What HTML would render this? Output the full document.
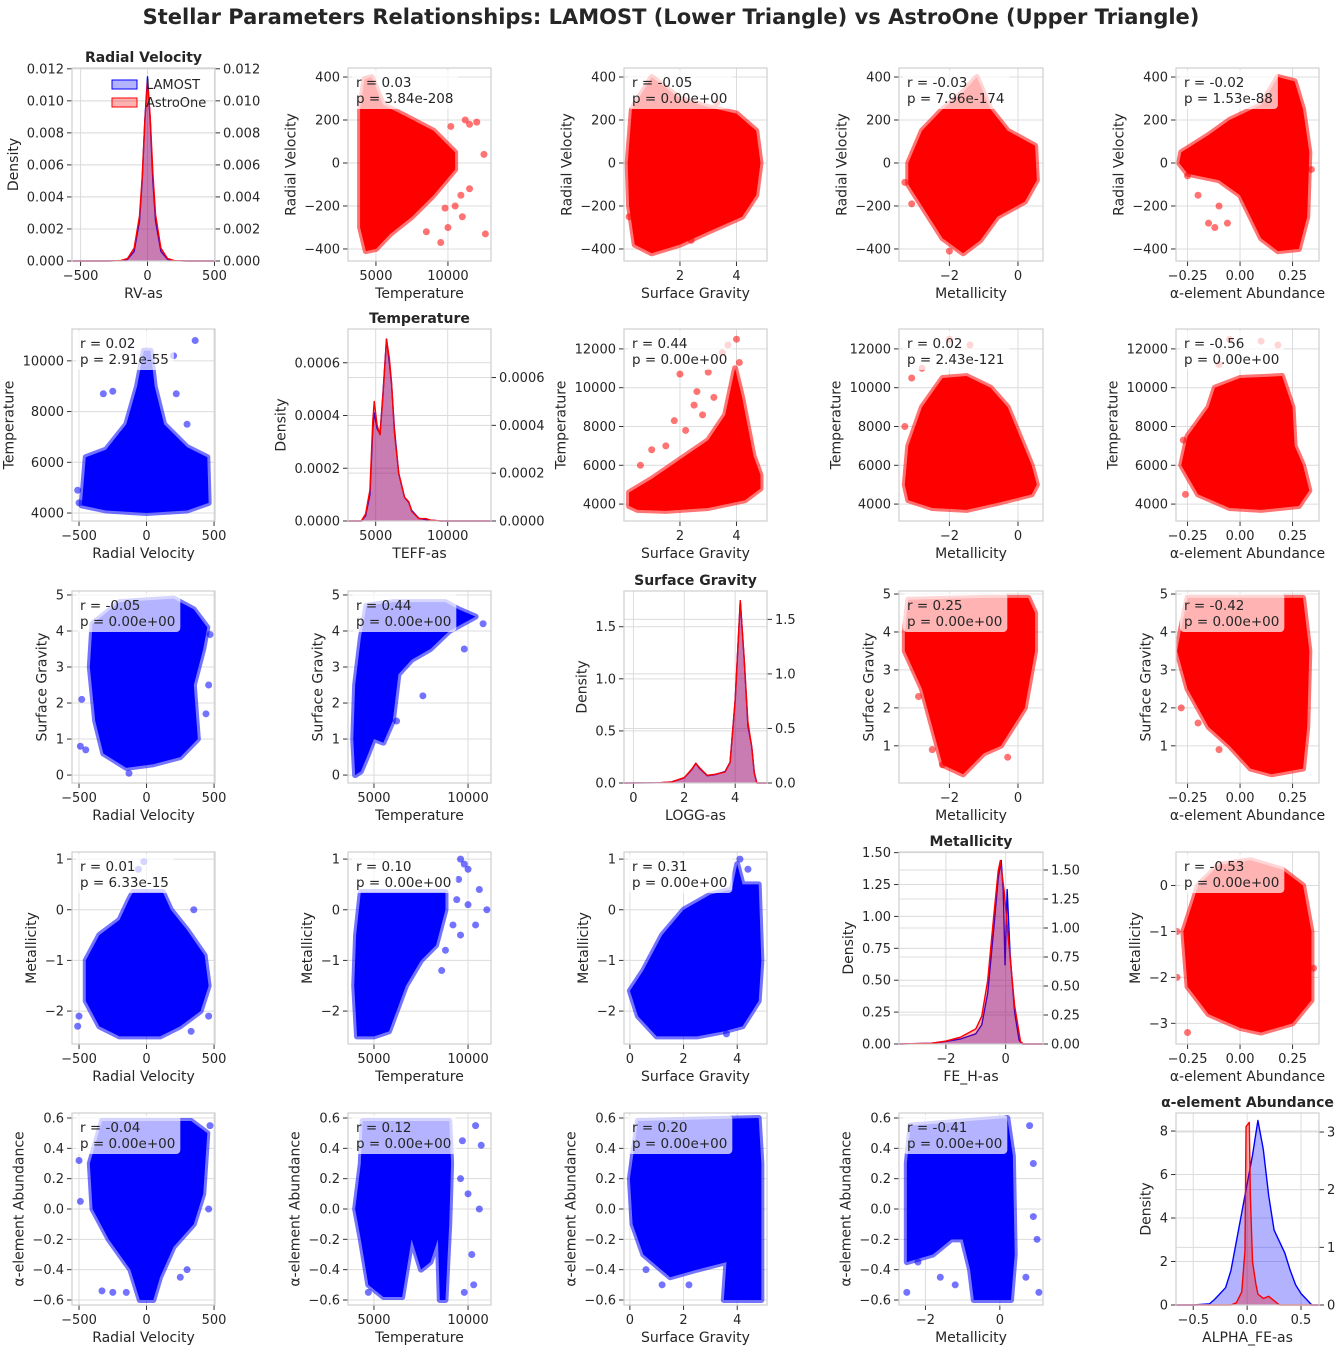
<!DOCTYPE html>
<html><head><meta charset="utf-8"><style>
html,body{margin:0;padding:0;background:#fff;}
svg text{font-family:"DejaVu Sans","Liberation Sans",sans-serif;fill:#262626;}
</style></head><body>
<svg id="fig" width="1342" height="1350" viewBox="0 0 1342 1350" xmlns="http://www.w3.org/2000/svg">
<text x="671" y="24" text-anchor="middle" font-size="21" font-weight="bold">Stellar Parameters Relationships: LAMOST (Lower Triangle) vs AstroOne (Upper Triangle)</text>
</svg>
<script>
// ---------- data ----------
const varNames = ["Radial Velocity","Temperature","Surface Gravity","Metallicity","α-element Abundance"];
const diagXLabels = ["RV-as","TEFF-as","LOGG-as","FE_H-as","ALPHA_FE-as"];
const rValues = {"1_2":"0.03","1_3":"-0.05","1_4":"-0.03","1_5":"-0.02","2_3":"0.44","2_4":"0.02","2_5":"-0.56","3_4":"0.25","3_5":"-0.42","4_5":"-0.53",
 "2_1":"0.02","3_1":"-0.05","3_2":"0.44","4_1":"0.01","4_2":"0.10","4_3":"0.31","5_1":"-0.04","5_2":"0.12","5_3":"0.20","5_4":"-0.41"};
const pValues = {"1_2":"3.84e-208","1_3":"0.00e+00","1_4":"7.96e-174","1_5":"1.53e-88","2_3":"0.00e+00","2_4":"2.43e-121","2_5":"0.00e+00","3_4":"0.00e+00","3_5":"0.00e+00","4_5":"0.00e+00",
 "2_1":"2.91e-55","3_1":"0.00e+00","3_2":"0.00e+00","4_1":"6.33e-15","4_2":"0.00e+00","4_3":"0.00e+00","5_1":"0.00e+00","5_2":"0.00e+00","5_3":"0.00e+00","5_4":"0.00e+00"};

const upXDomain = [null,[3060,12990],[0.02,5.08],[-3.47,0.73],[-0.305,0.376]];
const upXTicks = [null,[5000,10000],[2,4],[-2,0],[-0.25,0,0.25]];
const upXTickLabels = [null,["5000","10000"],["2","4"],["−2","0"],["−0.25","0.00","0.25"]];
const upYDomain = [[-456,442],[3128,13026],[0.02,5.08],[-3.45,0.73]];
const upYTicks = [[-400,-200,0,200,400],[4000,6000,8000,10000,12000],[1,2,3,4,5],[-3,-2,-1,0]];
const upYTickLabels = [["−400","−200","0","200","400"],["4000","6000","8000","10000","12000"],["1","2","3","4","5"],["−3","−2","−1","0"]];
const lowXDomain = [[-552,507],[3620,11220],[-0.22,5.11],[-2.71,1.16]];
const lowXTicks = [[-500,0,500],[5000,10000],[0,2,4],[-2,0]];
const lowXTickLabels = [["−500","0","500"],["5000","10000"],["0","2","4"],["−2","0"]];
const lowYDomain = [null,[3686,11255],[-0.22,5.11],[-2.65,1.14],[-0.633,0.633]];
const lowYTicks = [null,[4000,6000,8000,10000],[0,1,2,3,4,5],[-2,-1,0,1],[-0.6,-0.4,-0.2,0,0.2,0.4,0.6]];
const lowYTickLabels = [null,["4000","6000","8000","10000"],["0","1","2","3","4","5"],["−2","−1","0","1"],["−0.6","−0.4","−0.2","0.0","0.2","0.4","0.6"]];

const cloud_1_2=[[3900,250],[4200,390],[4700,400],[5500,270],[7000,220],[9000,150],[10500,50],[10500,-30],[9000,-150],[7500,-250],[6000,-330],[5000,-400],[4300,-410],[3900,-300]];
const out_1_2=[[11500,180],[12000,190],[12500,40],[10500,-200],[10900,-150],[11000,-250],[10000,-300],[12600,-330],[9500,-370],[11500,-120],[8500,-320],[9800,-210],[11200,200],[10200,170]];
const cloud_1_3=[[0.3,250],[1,400],[2,300],[3,260],[4,230],[4.7,150],[4.85,0],[4.7,-150],[4.2,-250],[3,-320],[2,-380],[1,-420],[0.4,-380],[0.2,-200],[0.15,0]];
const out_1_3=[[2.4,-360],[3.3,280],[0.2,-250]];
const cloud_1_4=[[-3.2,0],[-2.8,150],[-2.2,250],[-1.6,330],[-1.2,400],[-0.8,250],[-0.3,150],[0.5,80],[0.55,-80],[0.2,-180],[-0.6,-250],[-1.1,-360],[-1.6,-420],[-2.2,-350],[-2.8,-200],[-3.2,-100]];
const out_1_4=[[-3.3,-90],[-3.1,-190],[-0.1,-185],[-2.0,-410]];
const cloud_1_5=[[-0.28,50],[-0.15,130],[-0.05,200],[0.1,270],[0.18,400],[0.26,380],[0.3,250],[0.33,50],[0.32,-250],[0.28,-400],[0.18,-410],[0.1,-350],[0.05,-250],[0.0,-150],[-0.1,-80],[-0.25,-50],[-0.29,0]];
const out_1_5=[[-0.2,-150],[-0.15,-280],[-0.12,-300],[-0.25,-60],[-0.06,-280],[-0.1,-200],[0.34,-30]];
const cloud_2_3=[[0.2,3900],[0.2,4600],[1,5300],[2,6300],[3,7300],[3.6,8600],[3.95,11000],[4.2,9500],[4.6,6500],[4.85,5500],[4.85,4800],[4.3,4200],[3,3800],[1.5,3650],[0.5,3700]];
const out_2_3=[[1.5,7000],[2.0,10700],[2.5,9100],[3.2,9500],[3.5,11800],[4.0,12500],[2.8,8600],[1.0,6800],[3.0,10800],[2.2,7800],[3.7,12200],[4.1,11300],[1.8,8300],[2.6,9800],[0.6,6000]];
const cloud_2_4=[[-3.3,5000],[-3.2,7000],[-2.8,9000],[-2.2,10500],[-1.5,10600],[-0.8,10000],[-0.3,9000],[0.4,6000],[0.55,5000],[0.4,4500],[-0.5,4100],[-1.5,3700],[-2.5,3800],[-3.2,4200]];
const out_2_4=[[-2.8,11000],[-2.0,12500],[-1.4,12200],[-3.1,10500],[-3.3,8000]];
const cloud_2_5=[[-0.25,7500],[-0.15,9000],[-0.12,10000],[0.0,10500],[0.2,10600],[0.25,9000],[0.26,7000],[0.3,6000],[0.33,4700],[0.28,3900],[0.1,3700],[-0.05,3800],[-0.2,4500],[-0.28,6000]];
const out_2_5=[[-0.05,12500],[0.1,12400],[0.18,12200],[-0.26,4500],[-0.1,11200],[-0.27,7300]];
const cloud_3_4=[[-3.3,4.0],[-3.2,4.85],[-1,4.9],[0.3,4.9],[0.5,4.5],[0.5,3.5],[0.2,2.0],[-0.5,1.0],[-1.0,0.8],[-1.6,0.25],[-2.2,0.5],[-2.5,1.5],[-2.8,2.5],[-3.3,3.5]];
const out_3_4=[[-2.9,2.3],[-2.5,0.9],[-0.3,0.7],[-2.2,0.5]];
const cloud_3_5=[[-0.28,4.1],[-0.25,4.9],[0.3,4.9],[0.33,3.5],[0.32,1.5],[0.3,0.4],[0.15,0.25],[0.05,0.4],[-0.05,1.0],[-0.15,1.5],[-0.25,2.5],[-0.3,3.5]];
const out_3_5=[[-0.28,2.0],[-0.2,1.6],[-0.1,0.9]];
const cloud_4_5=[[-0.2,0.0],[-0.1,0.45],[0.05,0.55],[0.2,0.35],[0.3,0.0],[0.34,-1.0],[0.34,-2.5],[0.25,-3.0],[0.1,-3.2],[0.0,-3.1],[-0.15,-2.8],[-0.25,-2.2],[-0.27,-1.0],[-0.22,-0.3]];
const out_4_5=[[-0.3,-2.0],[-0.3,-1.0],[-0.25,-3.2],[0.35,-1.8],[0.2,-3.0]];
const cloud_2_1=[[-480,4300],[-450,6200],[-300,6500],[-150,7500],[-70,9000],[-20,10400],[30,10400],[60,9000],[130,7500],[300,6600],[450,6200],[460,4400],[300,4100],[0,4000],[-300,4100]];
const out_2_1=[[-320,8700],[-250,8800],[220,8700],[360,10800],[-180,7100],[300,7500],[-510,4900],[-500,4400],[200,10200]];
const cloud_3_1=[[-400,4.2],[-200,4.8],[200,4.9],[350,4.6],[450,4.1],[420,3.5],[350,2.5],[380,1.0],[250,0.5],[50,0.3],[-150,0.2],[-320,0.6],[-380,1.5],[-420,3.0]];
const out_3_1=[[-480,2.1],[-490,0.8],[-450,0.7],[460,2.5],[440,1.7],[470,3.9],[-130,0.05]];
const cloud_3_2=[[4000,0.0],[3900,1.0],[4000,2.5],[4300,3.8],[4600,4.7],[6000,4.8],[8800,4.8],[9500,4.6],[10400,4.4],[9000,4.0],[8000,3.5],[7000,3.2],[6300,2.8],[6000,1.5],[5500,0.9],[5000,1.0],[4700,0.6],[4300,0.1]];
const out_3_2=[[10800,4.2],[9800,3.5],[7600,2.2],[6800,3.3],[6200,1.5],[4600,1.0]];
const cloud_4_1=[[-450,-1.0],[-350,-0.5],[-200,-0.2],[-130,0.2],[-100,0.35],[120,0.35],[180,0.0],[300,-0.4],[430,-0.9],[460,-1.5],[400,-2.0],[250,-2.3],[100,-2.5],[-200,-2.5],[-350,-2.3],[-450,-1.8]];
const out_4_1=[[-500,-2.1],[-510,-2.3],[350,0.0],[-20,0.95],[-60,0.8],[460,-2.1],[330,-2.4]];
const cloud_4_2=[[4100,-2.5],[3950,-1.5],[4050,-0.5],[4300,0.35],[8800,0.35],[8800,0.0],[8300,-0.7],[7500,-1.0],[6700,-1.5],[6200,-2.0],[5800,-2.4],[5000,-2.5]];
const out_4_2=[[9600,1.0],[9800,0.9],[10000,0.8],[10600,0.4],[11000,0],[10400,-0.3],[9600,-0.5],[8600,-1.2],[10000,0.1],[9500,0.6],[9200,-0.3],[8800,-0.8],[9400,0.2]];
const cloud_4_3=[[0.0,-1.6],[0.5,-1.2],[1.2,-0.5],[2,0.0],[3,0.3],[3.8,0.4],[4.0,0.9],[4.2,0.5],[4.8,0.5],[4.9,-1.0],[4.8,-1.8],[4.2,-2.3],[3.5,-2.4],[2.5,-2.5],[1,-2.5],[0.3,-2.1]];
const out_4_3=[[4.1,1.0],[4.4,0.8],[3.6,-2.45]];
const cloud_5_1=[[-420,0.3],[-330,0.58],[330,0.58],[450,0.5],[420,0.1],[350,-0.1],[200,-0.25],[100,-0.45],[50,-0.6],[-50,-0.6],[-120,-0.4],[-280,-0.2],[-400,0.0]];
const out_5_1=[[-500,0.32],[-490,0.05],[-330,-0.54],[-250,-0.55],[300,-0.4],[470,0.55],[-150,-0.55],[250,-0.45],[460,0.0]];
const cloud_5_2=[[4300,0.3],[4400,0.58],[9000,0.58],[9100,0.3],[9000,-0.1],[8800,-0.6],[8500,-0.6],[8400,-0.2],[8000,-0.35],[7500,-0.4],[7000,-0.2],[6500,-0.58],[5500,-0.58],[4700,-0.5],[4300,-0.2],[4000,0.0]];
const out_5_2=[[10400,0.55],[10700,0.42],[10600,0.0],[10200,-0.3],[9800,-0.55],[10000,0.1],[9600,0.2],[4700,-0.55],[10300,-0.5],[9700,0.45]];
const cloud_5_3=[[0.0,0.2],[0.3,0.58],[4.8,0.6],[4.9,0.3],[4.9,-0.6],[3.5,-0.6],[3.6,-0.35],[2.5,-0.4],[1.5,-0.45],[0.5,-0.3],[0.1,-0.1]];
const out_5_3=[[1.2,-0.5],[2.2,-0.5],[0.6,-0.4]];
const cloud_5_4=[[-2.5,0.3],[-2.4,0.55],[0.2,0.6],[0.35,0.35],[0.4,-0.3],[0.3,-0.6],[-0.7,-0.6],[-0.8,-0.4],[-1.0,-0.2],[-1.3,-0.2],[-1.8,-0.3],[-2.5,-0.35]];
const out_5_4=[[0.8,0.55],[0.9,0.3],[1.0,-0.2],[1.05,-0.55],[0.7,-0.45],[-2.5,-0.55],[-2.2,-0.35],[-1.6,-0.45],[-1.2,-0.5],[0.9,-0.05]];

const clouds={"1_2":cloud_1_2,"1_3":cloud_1_3,"1_4":cloud_1_4,"1_5":cloud_1_5,"2_3":cloud_2_3,"2_4":cloud_2_4,"2_5":cloud_2_5,"3_4":cloud_3_4,"3_5":cloud_3_5,"4_5":cloud_4_5,
 "2_1":cloud_2_1,"3_1":cloud_3_1,"3_2":cloud_3_2,"4_1":cloud_4_1,"4_2":cloud_4_2,"4_3":cloud_4_3,"5_1":cloud_5_1,"5_2":cloud_5_2,"5_3":cloud_5_3,"5_4":cloud_5_4};
const outliers={"1_2":out_1_2,"1_3":out_1_3,"1_4":out_1_4,"1_5":out_1_5,"2_3":out_2_3,"2_4":out_2_4,"2_5":out_2_5,"3_4":out_3_4,"3_5":out_3_5,"4_5":out_4_5,
 "2_1":out_2_1,"3_1":out_3_1,"3_2":out_3_2,"4_1":out_4_1,"4_2":out_4_2,"4_3":out_4_3,"5_1":out_5_1,"5_2":out_5_2,"5_3":out_5_3,"5_4":out_5_4};

const kdeX_1=[-560,-300,-200,-150,-100,-60,-40,-20,0,20,40,60,100,150,200,300,505];
const kdeBlue_1=[0,0,0.00002,0.0001,0.0006,0.0025,0.005,0.0088,0.0115,0.0088,0.005,0.0025,0.0006,0.0001,0.00002,0,0];
const kdeRed_1=[0,0,0.00003,0.00015,0.0008,0.0028,0.0052,0.0087,0.0112,0.0090,0.0055,0.0029,0.0008,0.00015,0.00003,0,0];
const kdeX_2=[3077,4000,4300,4600,4800,4900,5100,5300,5500,5750,5950,6100,6300,6600,7000,7300,7500,8000,8500,8800,9500,13000];
const kdeBlue_2=[0,0,0.00002,0.0001,0.00035,0.00041,0.00035,0.00033,0.00048,0.00069,0.0006,0.00052,0.00035,0.00018,0.00009,0.00007,0.00004,0.00001,0.000005,0.000003,0,0];
const kdeRed_2=[0,0,0.00003,0.00013,0.00042,0.0005,0.0004,0.00036,0.00052,0.00076,0.00068,0.00058,0.00037,0.0002,0.0001,0.00008,0.00004,0.00001,0.00001,0.000004,0,0];
const kdeX_3=[-0.37,1.0,1.5,2.0,2.3,2.45,2.6,2.9,3.2,3.6,3.8,4.0,4.2,4.35,4.5,4.65,4.75,4.85,5.25];
const kdeBlue_3=[0,0.002,0.01,0.05,0.13,0.19,0.14,0.07,0.08,0.11,0.2,0.8,1.75,1.2,0.55,0.35,0.1,0,0];
const kdeRed_3=[0,0.002,0.01,0.05,0.13,0.18,0.14,0.07,0.08,0.1,0.19,0.76,1.67,1.15,0.56,0.33,0.09,0,0];
const kdeX_4=[-3.57,-2.5,-2,-1.5,-1.0,-0.8,-0.6,-0.4,-0.25,-0.15,-0.08,-0.02,0.05,0.15,0.3,0.45,0.55,1.25];
const kdeBlue_4=[0,0.005,0.02,0.04,0.08,0.15,0.4,0.9,1.3,1.44,1.2,0.62,1.21,0.7,0.25,0.03,0,0];
const kdeRedX_4=[-3.57,-2.5,-2,-1.5,-1.0,-0.8,-0.6,-0.4,-0.25,-0.18,-0.05,0.1,0.3,0.5,0.6,1.25];
const kdeRed_4=[0,0.006,0.025,0.06,0.13,0.24,0.55,1.1,1.49,1.58,1.32,0.88,0.33,0.02,0,0];
const kdeX_5=[-0.66,-0.5,-0.35,-0.3,-0.2,-0.15,-0.1,-0.05,0,0.05,0.1,0.15,0.2,0.25,0.3,0.35,0.4,0.45,0.5,0.55,0.6,0.667];
const kdeBlue_5=[0,0,0.02,0.1,0.3,0.6,1.1,1.6,2.1,2.6,3.2,2.7,1.9,1.3,1.1,0.9,0.6,0.35,0.2,0.1,0,0];
const kdeRedX_5=[-0.66,-0.15,-0.1,-0.05,-0.02,-0.01,0.02,0.03,0.05,0.08,0.1,0.15,0.2,0.25,0.3,0.667];
const kdeRed_5=[0,0,0.1,0.6,2.5,8.2,8.4,5,2,1,0.5,0.3,0.4,0.2,0,0];
const kdeXs=[kdeX_1,kdeX_2,kdeX_3,kdeX_4,kdeX_5];
const kdeBlues=[kdeBlue_1,kdeBlue_2,kdeBlue_3,kdeBlue_4,kdeBlue_5];
const kdeRedXs=[kdeX_1,kdeX_2,kdeX_3,kdeRedX_4,kdeRedX_5];
const kdeReds=[kdeRed_1,kdeRed_2,kdeRed_3,kdeRed_4,kdeRed_5];

const diagXDomain=[[-564,504],[3077,13007],[-0.37,5.25],[-3.57,1.25],[-0.66,0.667]];
const diagXTicks=[[-500,0,500],[5000,10000],[0,2,4],[-2,0],[-0.5,0,0.5]];
const diagXTickLabels=[["−500","0","500"],["5000","10000"],["0","2","4"],["−2","0"],["−0.5","0.0","0.5"]];
const diagLeftMax=[0.01205,0.000728,1.843,1.505,8.83];
const diagLeftTicks=[[0,0.002,0.004,0.006,0.008,0.01,0.012],[0,0.0002,0.0004,0.0006],[0,0.5,1.0,1.5],[0,0.25,0.5,0.75,1.0,1.25,1.5],[0,2,4,6,8]];
const diagLeftLabels=[["0.000","0.002","0.004","0.006","0.008","0.010","0.012"],["0.0000","0.0002","0.0004","0.0006"],["0.0","0.5","1.0","1.5"],["0.00","0.25","0.50","0.75","1.00","1.25","1.50"],["0","2","4","6","8"]];
const diagRightMax=[0.01205,0.000803,1.76,1.655,3.33];
const diagRightTicks=[[0,0.002,0.004,0.006,0.008,0.01,0.012],[0,0.0002,0.0004,0.0006],[0,0.5,1.0,1.5],[0,0.25,0.5,0.75,1.0,1.25,1.5],[0,1,2,3]];
const diagRightLabels=[["0.000","0.002","0.004","0.006","0.008","0.010","0.012"],["0.0000","0.0002","0.0004","0.0006"],["0.0","0.5","1.0","1.5"],["0.00","0.25","0.50","0.75","1.00","1.25","1.50"],["0","1","2","3"]];
const diagBlueOnRight=[false,false,false,false,true];

// ---------- layout ----------
const COLS=[[72,215],[348,491],[624,767],[899,1043],[1176,1319]];
const ROWS=[[68,261],[329,521],[591,783],[852,1044],[1113,1305]];
const NS="http://www.w3.org/2000/svg";
const svg=document.getElementById('fig');
function mk(tag,attrs,parent){const e=document.createElementNS(NS,tag);for(const k in attrs)e.setAttribute(k,attrs[k]);(parent||svg).appendChild(e);return e;}
function lin(d,r){return v=>r[0]+(v-d[0])/(d[1]-d[0])*(r[1]-r[0]);}

let clipId=0;
function axesFrame(g,x0,x1,y0,y1,sx,sy,xt,xtl,yt,ytl,xlabel,ylabel){
  xt.forEach(v=>{const l=mk('line',{x1:sx(v),x2:sx(v),y1:y0,y2:y1,stroke:'#dcdcdc','stroke-width':1},g);
    
    });
  yt.forEach(v=>{const l=mk('line',{x1:x0,x2:x1,y1:sy(v),y2:sy(v),stroke:'#dcdcdc','stroke-width':1},g);
    
    });
  let maxw=0;
  xt.forEach((v,i)=>{mk('line',{x1:sx(v),x2:sx(v),y1:y1,y2:y1+5,stroke:'#333','stroke-width':1},g);
    const t=mk('text',{x:sx(v),y:y1+19,'text-anchor':'middle','font-size':13},g);t.textContent=xtl[i];
    
    });
  yt.forEach((v,i)=>{mk('line',{x1:x0-5,x2:x0,y1:sy(v),y2:sy(v),stroke:'#333','stroke-width':1},g);
    const t=mk('text',{x:x0-8,y:sy(v)+4.5,'text-anchor':'end','font-size':13},g);t.textContent=ytl[i];
    
    
    maxw=Math.max(maxw,t.getComputedTextLength());});
  const xl=mk('text',{x:(x0+x1)/2,y:y1+37,'text-anchor':'middle','font-size':14},g);xl.textContent=xlabel;
  
  
  const yx=x0-8-maxw-9;const cy=(y0+y1)/2;
  const yl=mk('text',{x:yx,y:cy,'text-anchor':'middle','font-size':14,transform:`rotate(-90 ${yx} ${cy})`},g);yl.textContent=ylabel;
  
  
}
function border(g,x0,x1,y0,y1){const r=mk('rect',{x:x0,y:y0,width:x1-x0,height:y1-y0,fill:'none',stroke:'#cfcfcf','stroke-width':1.2},g);
  
  }

function scatterPanel(i,j){
  const up=j>i;const key=i+'_'+j;
  const [x0,x1]=COLS[j-1],[y0,y1]=ROWS[i-1];
  const g=mk('g',{});
  
  
  const xd=up?upXDomain[j-1]:lowXDomain[j-1], yd=up?upYDomain[i-1]:lowYDomain[i-1];
  const xt=up?upXTicks[j-1]:lowXTicks[j-1], xtl=up?upXTickLabels[j-1]:lowXTickLabels[j-1];
  const yt=up?upYTicks[i-1]:lowYTicks[i-1], ytl=up?upYTickLabels[i-1]:lowYTickLabels[i-1];
  const sx=lin(xd,[x0,x1]), sy=lin(yd,[y1,y0]);
  axesFrame(g,x0,x1,y0,y1,sx,sy,xt,xtl,yt,ytl,varNames[j-1],varNames[i-1]);
  const cid='c'+(clipId++);const cp=mk('clipPath',{id:cid},g);mk('rect',{x:x0,y:y0,width:x1-x0,height:y1-y0},cp);
  const dg=mk('g',{'clip-path':`url(#${cid})`},g);
  const col=up?'#ff0000':'#0000ff';
  const cloud=clouds[key], outs=outliers[key];
  const poly=mk('polygon',{points:cloud.map(p=>sx(p[0])+','+sy(p[1])).join(' '),fill:col,stroke:col,'stroke-opacity':0.55,'stroke-width':6,'stroke-linejoin':'round'},dg);
  
  
  outs.forEach(p=>{const c=mk('circle',{cx:sx(p[0]),cy:sy(p[1]),r:3.5,fill:col,'fill-opacity':0.55},dg);
    
    });
  const ag=mk('g',{},g);
  
  
  const box=mk('rect',{x:x0+4,y:y0+2,width:100,height:39,rx:4,fill:'#ffffff','fill-opacity':0.7},ag);
  const t1=mk('text',{x:x0+8,y:y0+19,'font-size':13.5},ag);t1.textContent='r = '+rValues[key];
  const t2=mk('text',{x:x0+8,y:y0+35,'font-size':13.5},ag);t2.textContent='p = '+pValues[key];
  box.setAttribute('width',Math.max(t1.getComputedTextLength(),t2.getComputedTextLength())+9);
  border(g,x0,x1,y0,y1);
}

function diagPanel(k){
  const [x0,x1]=COLS[k],[y0,y1]=ROWS[k];
  const g=mk('g',{});
  
  
  const sx=lin(diagXDomain[k],[x0,x1]);
  const syL=lin([0,diagLeftMax[k]],[y1,y0]), syR=lin([0,diagRightMax[k]],[y1,y0]);
  diagRightTicks[k].forEach((v,i)=>{mk('line',{x1:x0,x2:x1,y1:syR(v),y2:syR(v),stroke:'#dcdcdc','stroke-width':1},g);
    mk('line',{x1:x1,x2:x1+5,y1:syR(v),y2:syR(v),stroke:'#333','stroke-width':1},g);
    const t=mk('text',{x:x1+8,y:syR(v)+4.5,'font-size':13},g);t.textContent=diagRightLabels[k][i];
    
    });
  axesFrame(g,x0,x1,y0,y1,sx,syL,diagXTicks[k],diagXTickLabels[k],diagLeftTicks[k],diagLeftLabels[k],diagXLabels[k],'Density');
  const bx=kdeXs[k], by=kdeBlues[k], rx=kdeRedXs[k], ry=kdeReds[k];
  const syB=diagBlueOnRight[k]?syR:syL, syRd=diagBlueOnRight[k]?syL:syR;
  function curve(xs,ys,sy,col,name){
    const pts=xs.map((x,i)=>sx(x)+','+sy(ys[i]));
    const a=mk('polygon',{points:sx(xs[0])+','+y1+' '+pts.join(' ')+' '+sx(xs[xs.length-1])+','+y1,fill:col,'fill-opacity':0.3},g);
    
    
    const l=mk('polyline',{points:pts.join(' '),fill:'none',stroke:col,'stroke-width':1.4,'stroke-linejoin':'round'},g);
    
    
  }
  curve(bx,by,syB,'#0000ff','lamost-kde');
  curve(rx,ry,syRd,'#ff0000','astroone-kde');
  border(g,x0,x1,y0,y1);
  const tt=mk('text',{x:(x0+x1)/2,y:y0-6,'text-anchor':'middle','font-size':14,'font-weight':'bold'},g);tt.textContent=varNames[k];
  
  
  if(k===0){
    const lg=mk('g',{},g);
    
    
    mk('rect',{x:112,y:80,width:25,height:9,fill:'#0000ff','fill-opacity':0.3,stroke:'#0000ff'},lg);
    const a=mk('text',{x:146,y:89,'font-size':13},lg);a.textContent='LAMOST';
    
    
    mk('rect',{x:112,y:98,width:25,height:9,fill:'#ff0000','fill-opacity':0.3,stroke:'#ff0000'},lg);
    const b=mk('text',{x:146,y:107,'font-size':13},lg);b.textContent='AstroOne';
    
    
  }
}

for(let i=1;i<=5;i++)for(let j=1;j<=5;j++){ if(i===j)diagPanel(i-1); else scatterPanel(i,j); }
</script>
</body></html>
